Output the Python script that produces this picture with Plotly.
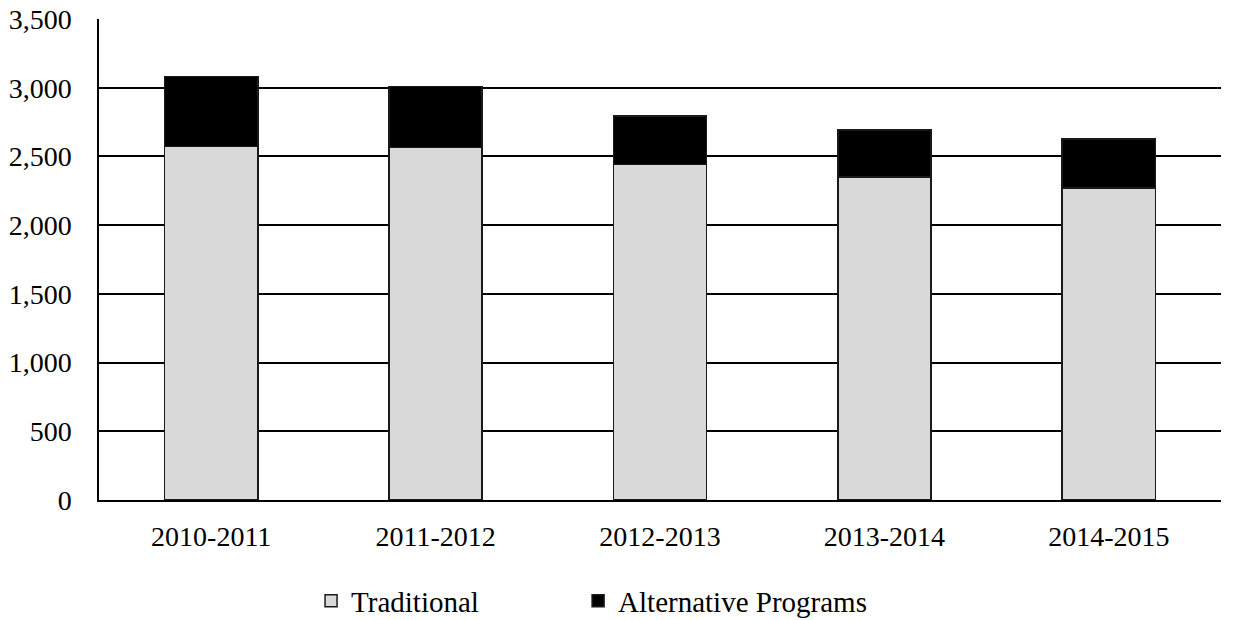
import plotly.graph_objects as go

years = ["2010-2011", "2011-2012", "2012-2013", "2013-2014", "2014-2015"]
traditional = [2572, 2565, 2443, 2349, 2271]
alternative = [510, 445, 350, 344, 357]
y_ticks = [0, 500, 1000, 1500, 2000, 2500, 3000, 3500]
y_tick_labels = ["0", "500", "1,000", "1,500", "2,000", "2,500", "3,000", "3,500"]

FONT = "Liberation Serif, Times New Roman, serif"

fig = go.Figure()
fig.add_trace(go.Bar(
    x=years, y=traditional, name="Traditional", legend="legend",
    marker=dict(color="#D9D9D9", line=dict(color="#1a1a1a", width=1.5)),
))
fig.add_trace(go.Bar(
    x=years, y=alternative, name="Alternative Programs", legend="legend2",
    marker=dict(color="#000000", line=dict(color="#1a1a1a", width=1.5)),
))

legend_common = dict(
    orientation="h", yanchor="middle", y=-0.21, xanchor="left",
    font=dict(family=FONT, size=29, color="black"),
    bgcolor="rgba(0,0,0,0)",
)

fig.update_layout(
    barmode="stack",
    bargap=0.585,
    width=1241, height=620,
    margin=dict(l=99, r=20, t=19, b=120, autoexpand=False),
    paper_bgcolor="white", plot_bgcolor="white",
    font=dict(family=FONT, size=28, color="black"),
    showlegend=True,
    legend=dict(x=0.189, **legend_common),
    legend2=dict(x=0.427, **legend_common),
    xaxis=dict(
        showline=True, linecolor="black", linewidth=1.5,
        showgrid=False, ticks="", ticklabelstandoff=11,
        tickfont=dict(family=FONT, size=28),
    ),
    yaxis=dict(
        range=[0, 3500], tickvals=y_ticks, ticktext=y_tick_labels,
        showline=True, linecolor="black", linewidth=1.5,
        showgrid=True, gridcolor="black", gridwidth=1.5,
        zeroline=False, ticks="", ticklabelstandoff=20,
        tickfont=dict(family=FONT, size=28),
    ),
)

fig.write_html("out.html")
